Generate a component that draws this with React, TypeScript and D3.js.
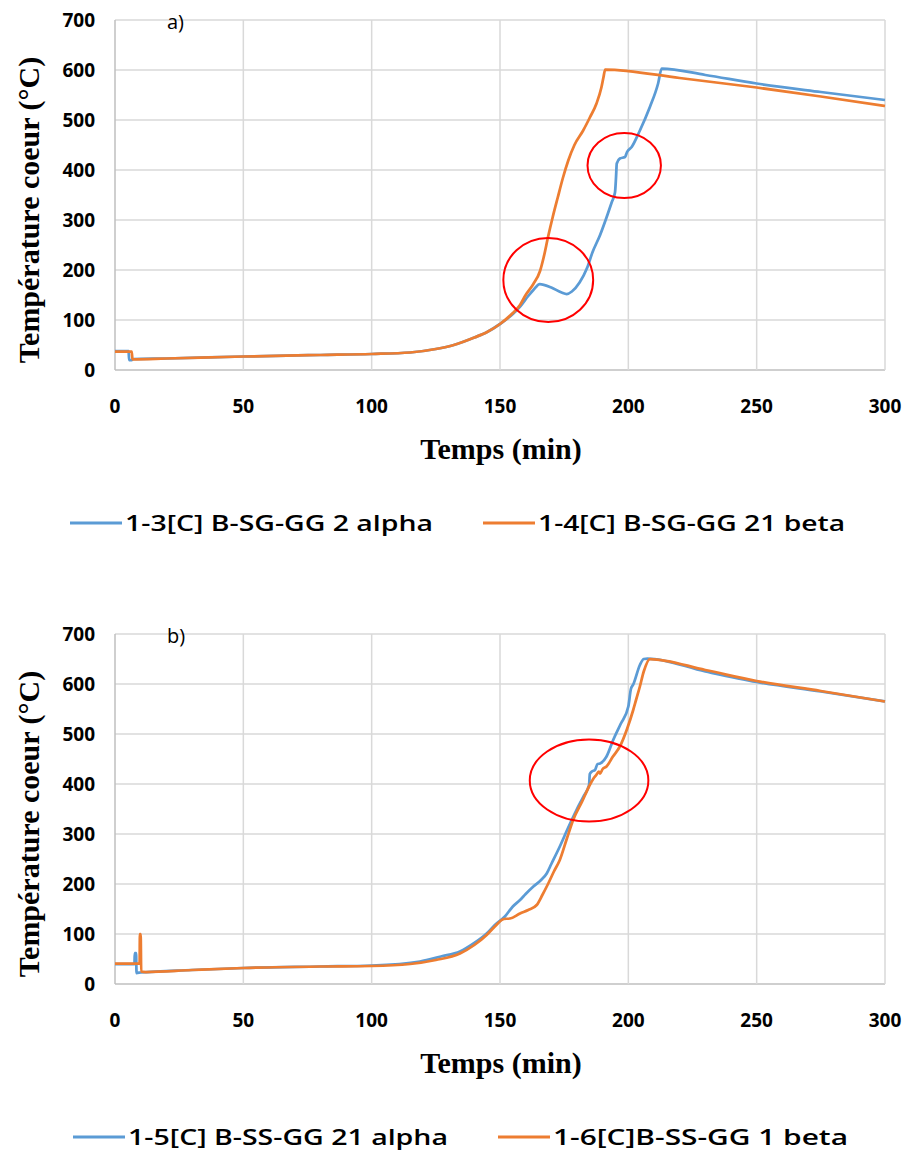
import React from "react";
import * as d3 from "d3";

const xTicks = [0, 50, 100, 150, 200, 250, 300];
const yTicks = [0, 100, 200, 300, 400, 500, 600, 700];

const seriesA1Name = "1-3[C] B-SG-GG 2 alpha";
const seriesA2Name = "1-4[C] B-SG-GG 21 beta";
const seriesB1Name = "1-5[C] B-SS-GG 21 alpha";
const seriesB2Name = "1-6[C]B-SS-GG 1 beta";

const seriesA1: [number, number][] = [
  [0, 38], [5.3, 38], [5.5, 20], [6.5, 20], [7, 22], [20, 23], [50, 27], [80, 30], [100, 32],
  [115, 35], [125, 42], [132, 50], [140, 65], [145, 76], [150, 92], [155, 112], [158, 128],
  [161, 148], [163, 160], [165.5, 172], [170, 165], [174, 155], [176, 152], [178, 157],
  [181, 175], [184, 205], [186, 235], [189, 270], [191.5, 305], [193.5, 335], [194.8, 355],
  [195.2, 385], [195.5, 413], [196.7, 423], [198.7, 426], [199.5, 436], [201.3, 446],
  [204.5, 479], [208.4, 526], [211.6, 573], [213, 603], [230, 590], [250, 573], [275, 556], [300, 540],
];

const seriesA2: [number, number][] = [
  [0, 37], [6.5, 37], [6.8, 21.5], [20, 23], [50, 27], [80, 30], [100, 32], [115, 35], [125, 42],
  [132, 50], [140, 65], [145, 76], [150, 92], [155, 114], [157.8, 130], [160, 150], [163, 172],
  [165.6, 198], [167, 225], [168.8, 268], [170.5, 305], [172.5, 345], [174.5, 384], [176.6, 419],
  [179, 450], [182.4, 479], [185, 505], [187.6, 533], [189.5, 565], [190.3, 585], [191, 601],
  [220, 584], [250, 565], [275, 547], [300, 528],
];

const seriesB1: [number, number][] = [
  [0, 40], [7.6, 40], [7.7, 62], [8.2, 62], [8.4, 22], [10, 23], [30, 28], [50, 32], [80, 35],
  [100, 37], [118.8, 45], [127, 55], [134.4, 65], [140, 82], [144.8, 101], [148, 118],
  [151.9, 135], [155, 155], [157.8, 168], [160, 180], [163, 195], [166, 208], [168.2, 221],
  [170, 240], [173.3, 275], [176.5, 312], [179.8, 348], [182.5, 375], [184.7, 398], [185, 420],
  [185.8, 425], [187, 428], [188, 440], [189, 441], [191.5, 455], [194.1, 488], [197, 520],
  [200, 555], [201, 590], [202, 600], [204.5, 638], [206, 650], [207.5, 651], [230, 625],
  [250, 604], [275, 585], [300, 565],
];

const seriesB2: [number, number][] = [
  [0, 41], [9.6, 41], [9.7, 100], [10, 100], [10.2, 25], [12, 24], [30, 28], [50, 32], [80, 35],
  [100, 36], [115, 40], [125, 48], [134.4, 61], [140, 78], [144.8, 98], [148, 115], [151.5, 130],
  [153.9, 131], [157.8, 141], [161, 148], [164.3, 158], [166.5, 178], [168.8, 201], [171, 225],
  [173.3, 248], [176, 290], [178.5, 328], [182, 365], [184.7, 395], [186.3, 410], [187.5, 418],
  [188.5, 425], [189, 421], [190, 430], [191.5, 435], [194, 455], [196.7, 475], [199.5, 510],
  [201.9, 548], [203, 568], [204.5, 595], [206, 625], [208.4, 650], [230, 628], [250, 606],
  [275, 586], [300, 565],
];

// circles: [cx (min), cy (°C), rx (min), ry (°C)]
const circlesA: [number, number, number, number][] = [
  [168.8, 180, 17.5, 84],
  [198.4, 409, 14.3, 65],
];
const circlesB: [number, number, number, number][] = [[184.7, 407, 23.1, 82]];

const BLUE = "#5b9bd5";
const ORANGE = "#ed7d31";

type PanelProps = {
  top: number;
  label: string;
  s1: [number, number][];
  s2: [number, number][];
  n1: string;
  n2: string;
  circles: [number, number, number, number][];
  legendX: [number, number];
  legendW: [number, number];
};

function Panel({ top, label, s1, s2, n1, n2, circles, legendX, legendW }: PanelProps) {
  const left = 115, right = 885, plotTop = top, plotBottom = top + 350;
  const x = d3.scaleLinear().domain([0, 300]).range([left, right]);
  const y = d3.scaleLinear().domain([0, 700]).range([plotBottom, plotTop]);
  const line = d3.line<[number, number]>().x((d) => x(d[0])).y((d) => y(d[1])).curve(d3.curveMonotoneX);
  const tickFont = "'Open Sans', sans-serif";
  const serif = "'Liberation Serif', 'Times New Roman', serif";
  const legendY = plotBottom + 153;
  return (
    <g>
      {yTicks.map((t) => (
        <line key={"h" + t} x1={left} x2={right} y1={y(t)} y2={y(t)} stroke={t === 0 ? "#bfbfbf" : "#d9d9d9"} strokeWidth={1.5} />
      ))}
      {xTicks.map((t) => (
        <line key={"v" + t} x1={x(t)} x2={x(t)} y1={plotTop} y2={plotBottom} stroke={t === 0 ? "#bfbfbf" : "#d9d9d9"} strokeWidth={1.5} />
      ))}
      {yTicks.map((t) => (
        <text key={"yl" + t} x={95} y={y(t)} dy="0.35em" textAnchor="end" fontFamily={tickFont} fontWeight={700} fontSize={19} fill="#000">{t}</text>
      ))}
      {xTicks.map((t) => (
        <text key={"xl" + t} x={x(t)} y={plotBottom + 36} dy="0.35em" textAnchor="middle" fontFamily={tickFont} fontWeight={700} fontSize={19} fill="#000">{t}</text>
      ))}
      <path d={line(s1) || ""} fill="none" stroke={BLUE} strokeWidth={2.75} strokeLinejoin="round" />
      <path d={line(s2) || ""} fill="none" stroke={ORANGE} strokeWidth={2.75} strokeLinejoin="round" />
      {circles.map((c, i) => (
        <ellipse key={i} cx={x(c[0])} cy={y(c[1])} rx={x(c[0] + c[2]) - x(c[0])} ry={y(c[1] - c[3]) - y(c[1])} fill="none" stroke="#ff0000" strokeWidth={2} />
      ))}
      <text x={167} y={plotTop + 2} dy="0.35em" fontFamily={tickFont} fontSize={20} fill="#000">{label}</text>
      <text x={501} y={plotBottom + 78} dy="0.35em" textAnchor="middle" fontFamily={serif} fontWeight="bold" fontSize={30} fill="#000">Temps (min)</text>
      <text transform={`translate(28,${(plotTop + plotBottom) / 2 + 15}) rotate(-90)`} textAnchor="middle" dy="0.35em" fontFamily={serif} fontWeight="bold" fontSize={30} fill="#000">Température coeur (°C)</text>
      <line x1={legendX[0] - 55} x2={legendX[0] - 3} y1={legendY} y2={legendY} stroke={BLUE} strokeWidth={3} />
      <text x={legendX[0]} y={legendY} dy="0.35em" fontFamily={tickFont} fontWeight={600} fontSize={22} textLength={legendW[0]} lengthAdjust="spacingAndGlyphs" fill="#000">{n1}</text>
      <line x1={legendX[1] - 55} x2={legendX[1] - 3} y1={legendY} y2={legendY} stroke={ORANGE} strokeWidth={3} />
      <text x={legendX[1]} y={legendY} dy="0.35em" fontFamily={tickFont} fontWeight={600} fontSize={22} textLength={legendW[1]} lengthAdjust="spacingAndGlyphs" fill="#000">{n2}</text>
    </g>
  );
}

export default function App() {
  return (
    <svg width={910} height={1159} style={{ position: "absolute", left: 0, top: 0, background: "#fff" }}>
      <rect width={910} height={1159} fill="#fff" />
      <Panel top={20} label="a)" s1={seriesA1} s2={seriesA2} n1={seriesA1Name} n2={seriesA2Name} circles={circlesA} legendX={[125, 538]} legendW={[308, 307]} />
      <Panel top={634} label="b)" s1={seriesB1} s2={seriesB2} n1={seriesB1Name} n2={seriesB2Name} circles={circlesB} legendX={[128, 553]} legendW={[320, 295]} />
    </svg>
  );
}
